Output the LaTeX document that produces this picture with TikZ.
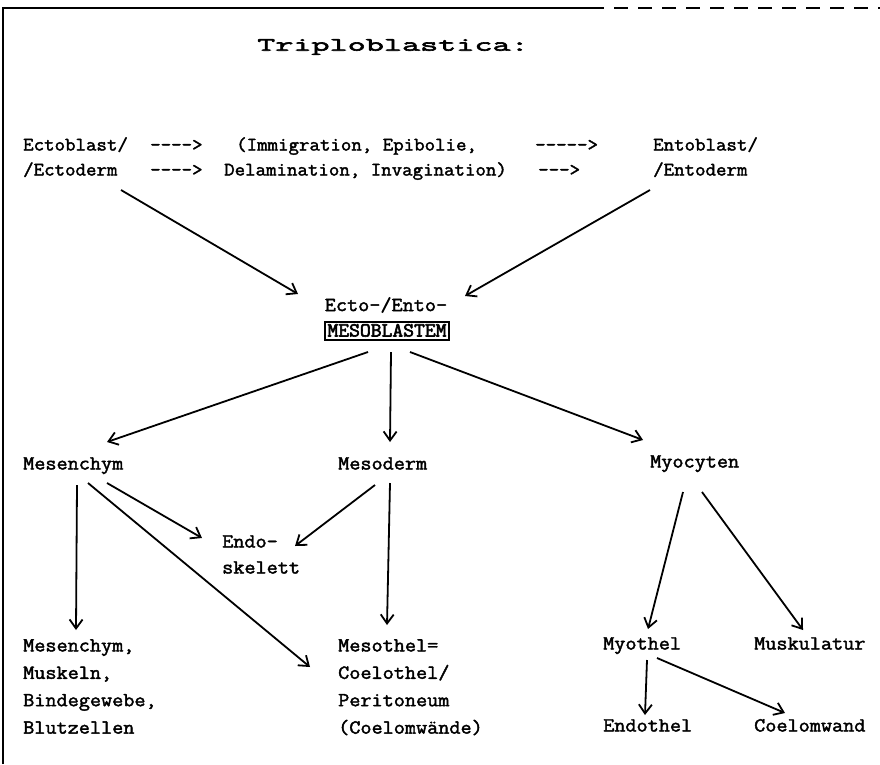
\documentclass[tikz,border=0pt]{standalone}
\usepackage{fontspec}
\usetikzlibrary{arrows.meta}
\newfontfamily\typef[FakeStretch=1.08, FakeBold=2]{Latin Modern Mono}
\newfontfamily\rowf[FakeStretch=1.07, FakeBold=2]{Latin Modern Mono}
\newfontfamily\boxf[FakeStretch=1.05, FakeBold=3]{Latin Modern Mono}
\newfontfamily\titlef[FakeStretch=1.85, FakeBold=3.2]{Latin Modern Mono}
\begin{document}
\begin{tikzpicture}[x=1pt,y=-1pt,
  lbl/.style={inner sep=0pt, anchor=west, font=\typef\fontsize{20}{27.4}\selectfont, text height=12pt, text depth=3pt},
  toprow/.style={inner sep=0pt, anchor=west, font=\rowf\fontsize{19}{24}\selectfont, text height=12pt, text depth=3pt},
  multi/.style={inner sep=0pt, anchor=north west, align=left, font=\typef\fontsize{20}{27.4}\selectfont},
  boxed/.style={draw, line width=1.3pt, inner xsep=2.5pt, inner ysep=2.5pt, font=\boxf\fontsize{20}{24}\selectfont, text height=12pt, text depth=1pt},
  arr/.style={line width=1.8pt, -{Straight Barb[length=9pt,width=13pt,line width=1.8pt]}},
  frame/.style={line width=1.6pt}
]
\path[use as bounding box] (0,0) rectangle (880,764);
% frame
\coordinate (fl) at (3,764);
\coordinate (ftl) at (3,8);
\coordinate (ftm) at (590,8);
\coordinate (ftr) at (880,8);
\draw[frame] (fl) -- (ftl) -- (ftm);
\draw[frame, dash pattern=on 14pt off 10pt] (ftm) -- (ftr);

% title
\node[inner sep=0pt, anchor=west, font=\titlef\fontsize{19}{24}\selectfont] (title) at (257,47) {Triploblastica:};

% top rows
\node[toprow] (ectoblast) at (23,146) {Ectoblast/};
\node[toprow] (ra1) at (150,146) {---->};
\node[toprow] (imm) at (236,146) {(Immigration, Epibolie,};
\node[toprow] (ra2) at (535,146) {----->};
\node[toprow] (entoblast) at (653,146) {Entoblast/};
\node[toprow] (ectoderm) at (23,171) {/Ectoderm};
\node[toprow] (rb1) at (150,171) {---->};
\node[toprow] (delam) at (224,171) {Delamination, Invagination)};
\node[toprow] (rb2) at (538,171) {--->};
\node[toprow] (entoderm) at (653,171) {/Entoderm};

% center
\node[inner sep=0pt, font=\typef\fontsize{20}{24}\selectfont] (ectoento) at (386,305) {Ecto-/Ento-};
\node[boxed] (meso) at (387,331) {MESOBLASTEM};

% level 2
\node[lbl] (mesenchym) at (23,465) {Mesenchym};
\node[lbl] (mesoderm) at (338,465) {Mesoderm};
\node[lbl] (myocyten) at (650,463) {Myocyten};

% level 3
\node[lbl] (endo) at (222,543) {Endo-};
\node[lbl] (skelett) at (222,569) {skelett};
\node[multi] (mesbox) at (23,639) {Mesenchym,\\Muskeln,\\Bindegewebe,\\Blutzellen};
\node[multi] (mesothel) at (338,639) {Mesothel=\\Coelothel/\\Peritoneum\\(Coelomwände)};
\node[lbl] (myothel) at (603,645) {Myothel};
\node[lbl] (muskulatur) at (754,645) {Muskulatur};
\node[lbl] (endothel) at (603,727) {Endothel};
\node[lbl] (coelomwand) at (754,727) {Coelomwand};

% connector end points
\coordinate (a1s) at (121,190); \coordinate (a1e) at (298,294);
\coordinate (a2s) at (650,190); \coordinate (a2e) at (465,296);
\coordinate (b1s) at (368,352); \coordinate (b1e) at (107,442);
\coordinate (b2s) at (391,352); \coordinate (b2e) at (390,442);
\coordinate (b3s) at (410,352); \coordinate (b3e) at (643,440);
\coordinate (c1s) at (77,485);  \coordinate (c1e) at (76,630);
\coordinate (c2s) at (107,483); \coordinate (c2e) at (202,538);
\coordinate (c3s) at (88,483);  \coordinate (c3e) at (310,667);
\coordinate (c4s) at (375,485); \coordinate (c4e) at (295,546);
\coordinate (c5s) at (390,483); \coordinate (c5e) at (387,625);
\coordinate (d1s) at (683,492); \coordinate (d1e) at (648,629);
\coordinate (d2s) at (702,492); \coordinate (d2e) at (803,630);
\coordinate (e1s) at (647,660); \coordinate (e1e) at (645,715);
\coordinate (e2s) at (657,658); \coordinate (e2e) at (785,713);

\draw[arr] (a1s) -- (a1e);
\draw[arr] (a2s) -- (a2e);
\draw[arr] (b1s) -- (b1e);
\draw[arr] (b2s) -- (b2e);
\draw[arr] (b3s) -- (b3e);
\draw[arr] (c1s) -- (c1e);
\draw[arr] (c2s) -- (c2e);
\draw[arr] (c3s) -- (c3e);
\draw[arr] (c4s) -- (c4e);
\draw[arr] (c5s) -- (c5e);
\draw[arr] (d1s) -- (d1e);
\draw[arr] (d2s) -- (d2e);
\draw[arr] (e1s) -- (e1e);
\draw[arr] (e2s) -- (e2e);
\end{tikzpicture}
\end{document}
